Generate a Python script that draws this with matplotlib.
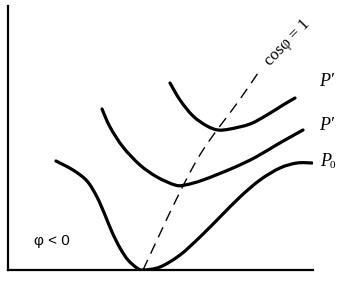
import matplotlib
matplotlib.use("Agg")
import matplotlib.pyplot as plt
from matplotlib.path import Path
from matplotlib.patches import PathPatch

# V-curves of a synchronous machine
# (x = field current, y = armature current, axis units)
p0_x = [48, 65, 79, 89, 97, 104, 112, 120, 129, 135, 152, 172, 192, 212, 232, 252, 272, 289, 304]
p0_y = [109, 100, 89, 73, 55, 38, 22, 10, 2, 0, 3, 15, 33, 53, 73, 90, 102, 107, 107]

p1_x = [94, 102, 115, 132, 149, 167, 177, 195, 225, 248, 270, 295]
p1_y = [161, 143, 123, 105, 93, 85, 85, 90, 102, 113, 126, 140]

p2_x = [162, 172, 185, 199, 210, 222, 242, 259, 275, 287]
p2_y = [187, 170, 154, 144, 140, 141, 146, 155, 165, 172]

unity_x = [135, 169, 195, 230, 250]
unity_y = [0, 72, 120, 168, 197]


def smooth_path(xs, ys):
    """
    Bezier path through the points (Catmull-Rom tangents).
    """
    pts = list(zip(xs, ys))
    verts = [pts[0]]
    codes = [Path.MOVETO]
    for i in range(len(pts) - 1):
        p0 = pts[i - 1] if i > 0 else pts[i]
        p1 = pts[i]
        p2 = pts[i + 1]
        p3 = pts[i + 2] if i + 2 < len(pts) else pts[i + 1]
        c1 = (p1[0] + (p2[0] - p0[0]) / 6, p1[1] + (p2[1] - p0[1]) / 6)
        c2 = (p2[0] - (p3[0] - p1[0]) / 6, p2[1] - (p3[1] - p1[1]) / 6)
        verts += [c1, c2, p2]
        codes += [Path.CURVE4] * 3
    return Path(verts, codes)


fig = plt.figure(figsize=(3.5, 2.81), dpi=100)
ax = fig.add_axes([8 / 350, 11 / 281, 305 / 350, 264 / 281])
ax.set_xlim(0, 305)
ax.set_ylim(0, 264)
ax.set_xticks([])
ax.set_yticks([])
for side in ["top", "right"]:
    ax.spines[side].set_visible(False)
for side in ["left", "bottom"]:
    ax.spines[side].set_linewidth(1.6)
ax.patch.set_alpha(0)

for xs, ys in [(p0_x, p0_y), (p1_x, p1_y), (p2_x, p2_y)]:
    ax.add_patch(PathPatch(smooth_path(xs, ys), facecolor="none", edgecolor="black",
                           lw=2.3, capstyle="round", joinstyle="round"))

ax.add_patch(PathPatch(smooth_path(unity_x, unity_y), facecolor="none",
                       edgecolor="black", lw=1.0, linestyle=(0, (8, 5))))

serif = dict(family="Liberation Serif", style="italic", fontsize=13)
ax.text(311, 188, "P\u2032", ha="left", va="center", **serif)
ax.text(311, 145, "P\u2032", ha="left", va="center", **serif)
ax.text(312, 109, "P", ha="left", va="center", **serif)
ax.text(322, 104, "0", ha="left", va="center", family="Liberation Serif", fontsize=8)

ax.text(279, 227, "cos\u03c6 = 1", rotation=46, rotation_mode="anchor",
        ha="center", va="center", family="Liberation Serif", fontsize=12)
ax.text(44, 29, "\u03c6 < 0", ha="center", va="center",
        family="Liberation Sans", fontsize=11)

fig.savefig("out.png", dpi=100)
